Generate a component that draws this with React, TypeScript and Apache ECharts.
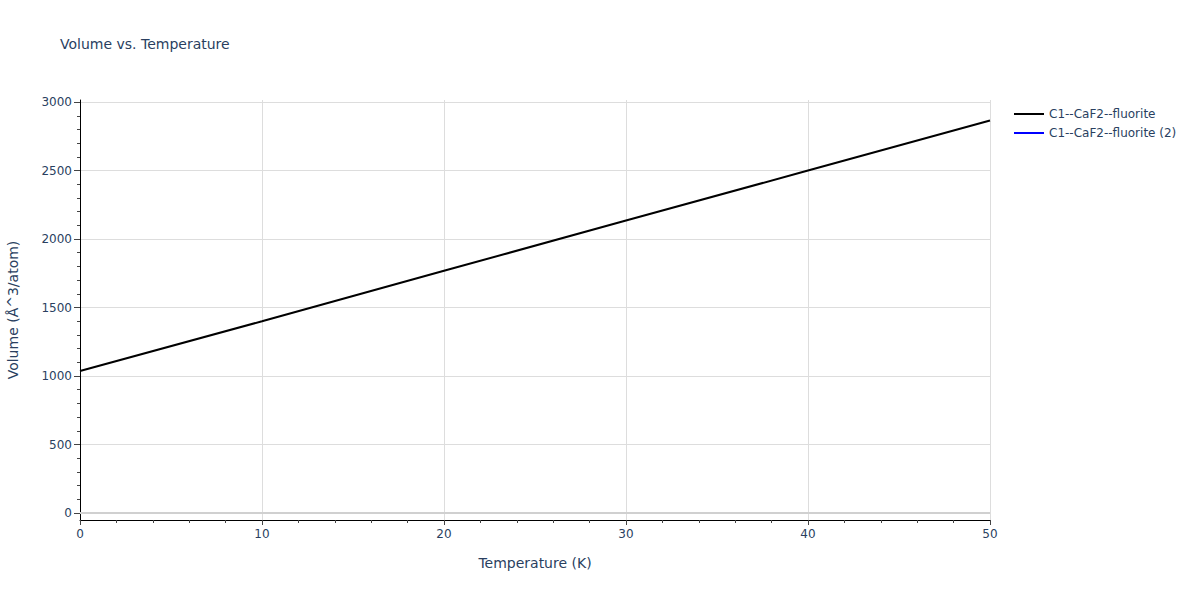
import React, { useEffect, useRef } from "react";
import * as echarts from "echarts";

const temperatures = [0, 10, 20, 30, 40, 50];
const volumes = [1037, 1400, 1768, 2135, 2500, 2866];
const seriesNames = ["C1--CaF2--fluorite", "C1--CaF2--fluorite (2)"];
const seriesColors = ["#000000", "#0000ff"];
const yMajorTicks = [0, 500, 1000, 1500, 2000, 2500, 3000];
const yMinorTicks = [
  0, 100, 200, 300, 400, 500, 600, 700, 800, 900, 1000, 1100, 1200, 1300, 1400, 1500,
  1600, 1700, 1800, 1900, 2000, 2100, 2200, 2300, 2400, 2500, 2600, 2700, 2800, 2900, 3000,
];

const FONT = "DejaVu Sans";
const TXT = "#2a3f5f";

export default function App() {
  const ref = useRef<HTMLDivElement>(null);
  useEffect(() => {
    if (!ref.current) return;
    const chart = echarts.init(ref.current, undefined, { renderer: "svg" });
    const yRange = { min: -51, max: 3015 };
    chart.setOption({
      animation: false,
      backgroundColor: "#ffffff",
      textStyle: { fontFamily: FONT },
      title: {
        text: "Volume vs. Temperature",
        left: 60,
        top: 37,
        padding: 0,
        textStyle: { fontFamily: FONT, fontSize: 14, fontWeight: "normal", color: TXT },
      },
      legend: {
        orient: "vertical",
        left: 1014,
        top: 107,
        icon: "rect",
        itemWidth: 30,
        itemHeight: 2,
        itemGap: 5,
        padding: 0,
        data: seriesNames,
        textStyle: { fontFamily: FONT, fontSize: 12, color: TXT, lineHeight: 14 },
      },
      grid: { left: 80, right: 210, top: 100, bottom: 80, containLabel: false, outerBoundsMode: "none" },
      xAxis: {
        type: "value",
        min: 0,
        max: 50,
        interval: 10,
        name: "Temperature (K)",
        nameLocation: "middle",
        nameGap: 36,
        nameTextStyle: { fontFamily: FONT, fontSize: 14, color: TXT },
        axisLine: { show: true, onZero: false, lineStyle: { color: "#000000", width: 1 } },
        axisTick: { show: true, length: 5, lineStyle: { color: "#444444" } },
        minorTick: { show: true, splitNumber: 5, length: 3, lineStyle: { color: "#444444" } },
        axisLabel: { fontFamily: FONT, fontSize: 12, color: TXT, margin: 8 },
        splitLine: { show: true, lineStyle: { color: "#dddddd", width: 1 } },
      },
      yAxis: [
        {
          type: "value",
          ...yRange,
          name: "Volume (Å^3/atom)",
          nameLocation: "middle",
          nameGap: 60,
          nameTextStyle: { fontFamily: FONT, fontSize: 14, color: TXT },
          axisLine: { show: true, onZero: false, lineStyle: { color: "#000000", width: 1 } },
          axisTick: { show: true, length: 6, customValues: yMajorTicks, lineStyle: { color: "#444444" } },
          axisLabel: {
            fontFamily: FONT,
            fontSize: 12,
            color: TXT,
            margin: 8,
            customValues: yMajorTicks,
            formatter: (v: number) => String(v),
          },
          splitLine: { show: true, lineStyle: { color: "#dddddd", width: 1 } },
        },
        {
          type: "value",
          ...yRange,
          position: "left",
          axisLine: { show: false, onZero: false },
          axisTick: { show: true, length: 3, customValues: yMinorTicks, lineStyle: { color: "#444444" } },
          axisLabel: { show: false },
          splitLine: { show: false },
        },
      ],
      series: [
        {
          name: seriesNames[0],
          type: "line",
          yAxisIndex: 0,
          symbol: "none",
          color: seriesColors[0],
          lineStyle: { color: seriesColors[0], width: 2 },
          data: temperatures.map((t, i) => [t, volumes[i]]),
          z: 3,
          markLine: {
            silent: true,
            symbol: "none",
            label: { show: false },
            lineStyle: { color: "#d0d0d0", width: 2, type: "solid" },
            data: [{ yAxis: 0 }],
            z: 1,
          },
        },
        {
          name: seriesNames[1],
          type: "line",
          yAxisIndex: 0,
          symbol: "none",
          color: seriesColors[1],
          lineStyle: { color: seriesColors[1], width: 2 },
          data: [],
        },
      ],
    });
    return () => chart.dispose();
  }, []);
  return (
    <div
      ref={ref}
      style={{ position: "fixed", left: 0, top: 0, width: 1200, height: 600 }}
    />
  );
}
